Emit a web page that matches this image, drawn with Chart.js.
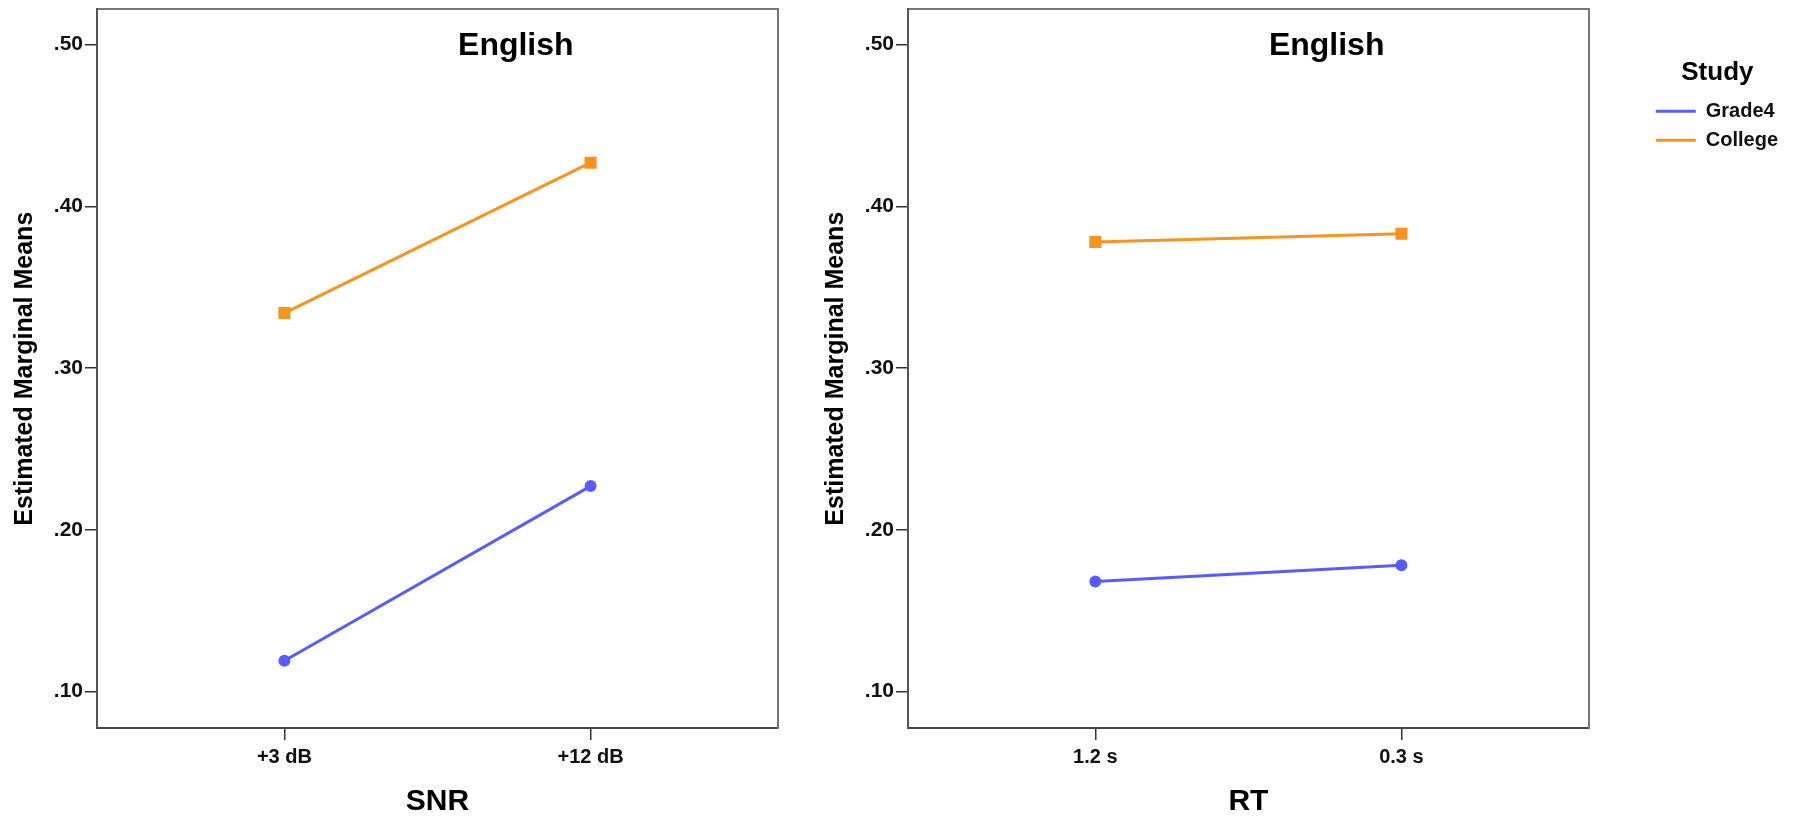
<!DOCTYPE html>
<html>
<head>
<meta charset="utf-8">
<title>Estimated Marginal Means - English</title>
<script src="https://cdn.jsdelivr.net/npm/chart.js@4"></script>
<style>
  html, body { margin: 0; padding: 0; background: #fff; }
  body { width: 1799px; height: 817px; position: relative; overflow: hidden; }
  .panel { position: absolute; top: 0; height: 817px; }
  #snrBox { left: 0; width: 811px; }
  #rtBox { left: 811px; width: 988px; }
</style>
</head>
<body>
<div class="panel" id="snrBox"><canvas id="snrChart"></canvas></div>
<div class="panel" id="rtBox"><canvas id="rtChart"></canvas></div>
<script>
// data
var studyGroups = ['Grade4', 'College'];
var snrLevels = ['+3 dB', '+12 dB'];
var rtLevels = ['1.2 s', '0.3 s'];
var snrGrade4 = [0.119, 0.227];
var snrCollege = [0.334, 0.427];
var rtGrade4 = [0.168, 0.178];
var rtCollege = [0.378, 0.383];
var yTicks = [0.10, 0.20, 0.30, 0.40, 0.50];
var yTickLabels = ['.10', '.20', '.30', '.40', '.50'];

var blue = '#585cff';
var orange = '#f7931e';

Chart.defaults.font.family = '"Liberation Sans", Arial, sans-serif';
Chart.defaults.color = '#111';

// the "English" label sits inside the plot frame
var panelTitle = {
    id: 'panelTitle',
    afterDraw: function (chart, args, opts) {
        var ctx = chart.ctx, area = chart.chartArea;
        ctx.save();
        ctx.font = 'bold 32px "Liberation Sans", Arial, sans-serif';
        ctx.fillStyle = '#000';
        ctx.textAlign = 'center';
        ctx.textBaseline = 'alphabetic';
        ctx.fillText(opts.text, area.left + area.width * 0.615, area.top + 46);
        ctx.restore();
    }
};

function noPad(s) {
    s.paddingTop = 0;
    s.paddingBottom = 0;
    s.paddingLeft = 0;
    s.paddingRight = 0;
}

function makeConfig(levels, grade4, college, xTitle, rightGap, showLegend, padRight) {
    return {
        type: 'line',
        data: {
            datasets: [
                {
                    label: studyGroups[0],
                    data: levels.map(function (l, i) { return { x: i, y: grade4[i] }; }),
                    borderColor: blue,
                    backgroundColor: blue,
                    borderWidth: 3,
                    pointStyle: 'circle',
                    pointRadius: 4.5,
                    pointHoverRadius: 4.5,
                    pointBorderWidth: 3,
                    pointBorderColor: blue,
                    pointBackgroundColor: blue
                },
                {
                    label: studyGroups[1],
                    data: levels.map(function (l, i) { return { x: i, y: college[i] }; }),
                    borderColor: orange,
                    backgroundColor: orange,
                    borderWidth: 3,
                    pointStyle: 'rect',
                    pointRadius: 6.4,
                    pointHoverRadius: 6.4,
                    pointBorderWidth: 3,
                    pointBorderColor: orange,
                    pointBackgroundColor: orange
                }
            ]
        },
        options: {
            responsive: true,
            maintainAspectRatio: false,
            animation: false,
            layout: { padding: { top: 0, left: 0, bottom: 0, right: padRight } },
            scales: {
                x: {
                    type: 'linear',
                    position: 'bottom',
                    min: -0.612,
                    max: 1.612,
                    afterBuildTicks: function (s) {
                        s.ticks = levels.map(function (l, i) { return { value: i }; });
                    },
                    afterFit: function (s) { s.height = 89; noPad(s); },
                    ticks: {
                        autoSkip: false,
                        maxRotation: 0,
                        padding: 5,
                        color: '#111',
                        font: { size: 20, weight: 'bold' },
                        callback: function (v) { return levels[v]; }
                    },
                    grid: { display: true, drawOnChartArea: false, drawTicks: true, tickLength: 12, color: '#333', lineWidth: 1.5 },
                    border: { color: '#444', width: 2 },
                    title: {
                        display: true,
                        text: xTitle,
                        color: '#000',
                        padding: 0,
                        font: { size: 30, weight: 'bold', lineHeight: 1 }
                    }
                },
                x2: {
                    type: 'linear',
                    position: 'top',
                    ticks: { display: false },
                    grid: { display: false, drawTicks: false },
                    border: { color: '#777', width: 2 },
                    afterFit: function (s) { s.height = 9; noPad(s); }
                },
                y: {
                    type: 'linear',
                    position: 'left',
                    min: 0.0774,
                    max: 0.5218,
                    afterBuildTicks: function (s) {
                        s.ticks = yTicks.map(function (v) { return { value: v }; });
                    },
                    afterFit: function (s) { s.width = 97; noPad(s); },
                    ticks: {
                        padding: 2,
                        color: '#111',
                        font: { size: 21, weight: 'bold' },
                        callback: function (v, i) { return yTickLabels[i]; }
                    },
                    grid: { display: true, drawOnChartArea: false, drawTicks: true, tickLength: 12, color: '#333', lineWidth: 1.5 },
                    border: { color: '#555', width: 2 },
                    title: {
                        display: true,
                        text: 'Estimated Marginal Means',
                        color: '#000',
                        padding: { top: 10, bottom: 0 },
                        font: { size: 25, weight: 'bold' }
                    }
                },
                y2: {
                    type: 'linear',
                    position: 'right',
                    ticks: { display: false },
                    grid: { display: false, drawTicks: false },
                    border: { color: '#777', width: 2 },
                    afterFit: function (s) { s.width = rightGap; noPad(s); }
                }
            },
            plugins: {
                panelTitle: { text: 'English' },
                tooltip: { enabled: false },
                legend: {
                    display: showLegend,
                    position: 'right',
                    align: 'start',
                    title: {
                        display: true,
                        text: 'Study',
                        color: '#000',
                        padding: { top: 60, bottom: 1 },
                        font: { size: 26, weight: 'bold' }
                    },
                    labels: {
                        usePointStyle: true,
                        pointStyle: 'line',
                        pointStyleWidth: 40,
                        padding: 9,
                        color: '#111',
                        font: { size: 20, weight: 'bold' }
                    }
                }
            }
        },
        plugins: [panelTitle]
    };
}

var snrChart = new Chart(document.getElementById('snrChart'),
    makeConfig(snrLevels, snrGrade4, snrCollege, 'SNR', 33, false, 0));
var rtChart = new Chart(document.getElementById('rtChart'),
    makeConfig(rtLevels, rtGrade4, rtCollege, 'RT', 58, true, 11));
</script>
</body>
</html>
